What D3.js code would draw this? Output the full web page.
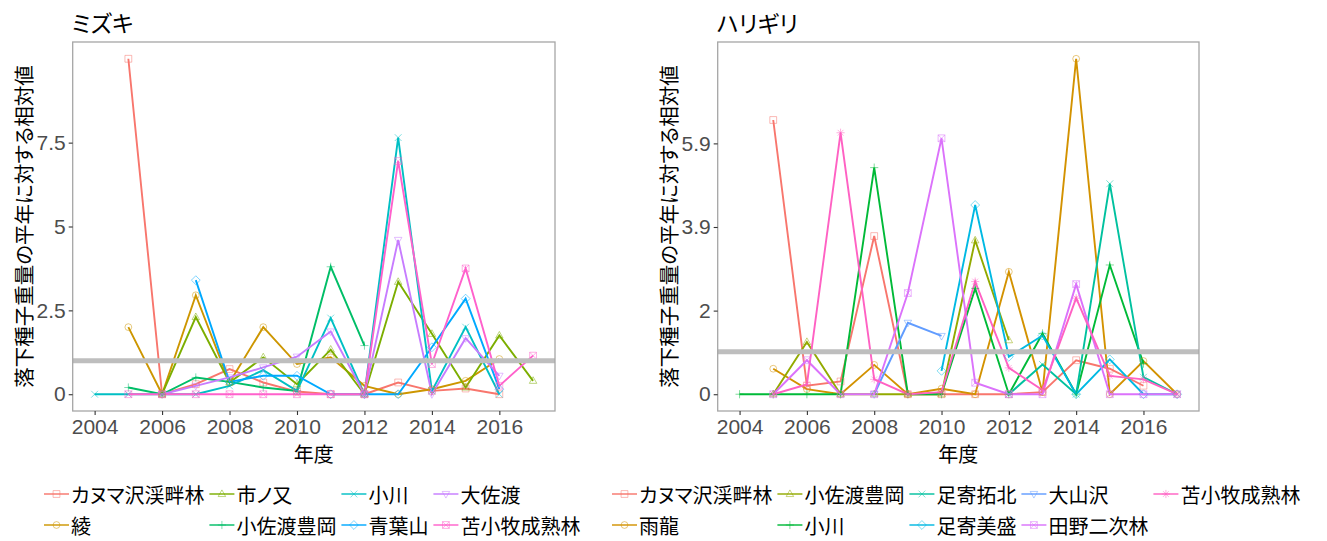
<!DOCTYPE html>
<html>
<head>
<meta charset="utf-8">
<script src="https://cdn.jsdelivr.net/npm/d3@7"></script>
<style>
body{margin:0;background:#fff;}
text{font-family:"Noto Sans CJK JP","Noto Sans",sans-serif;font-feature-settings:"palt";}
.tick text{font-family:"Liberation Sans",Arial,sans-serif;}
</style>
</head>
<body>
<div id="chart"></div>
<script>
// 年度
const years = [2004,2005,2006,2007,2008,2009,2010,2011,2012,2013,2014,2015,2016,2017];
const xTicks = [2004,2006,2008,2010,2012,2014,2016];

// ミズキ
const mizukiSites = ["カヌマ沢渓畔林","綾","市ノ又","小佐渡豊岡","小川","青葉山","大佐渡","苫小牧成熟林"];
const mzKanuma   = [null,10.0,0,0.3,0.75,0.35,0.08,0,0,0.35,0.1,0.17,0,null];
const mzAya      = [null,2.0,0,2.95,0.35,2.0,0.9,1.1,0.25,0,0.15,0.4,1.05,null];
const mzIchinomata = [null,null,0,2.3,0.35,1.1,0.3,1.33,0,3.35,1.8,0.2,1.75,0.4];
const mzKosadoToyooka = [null,0.2,0,0.5,0.37,0.2,0.1,3.8,1.45,null,null,null,null,null];
const mzOgawa    = [0,0,0,0,0.25,0.72,0.1,2.27,0,7.65,0.1,2.0,0,null];
const mzAobayama = [null,null,null,3.4,0.37,0.55,0.55,0,0,0,1.4,2.85,0.15,null];
const mzOsado    = [null,null,0,0.25,0.5,0.8,1.12,1.87,0,4.6,0,1.67,0.55,null];
const mzTomakomai = [null,0,0,0,0,0,0,0,0,6.95,0.9,3.75,0.25,1.15];
const mizukiValues = [mzKanuma,mzAya,mzIchinomata,mzKosadoToyooka,mzOgawa,mzAobayama,mzOsado,mzTomakomai];
const mizukiTicks = [0,2.5,5,7.5];
const mizukiTickLabels = ["0","2.5","5","7.5"];

// ハリギリ
const harigiriSites = ["カヌマ沢渓畔林","雨龍","小佐渡豊岡","小川","足寄拓北","足寄美盛","大山沢","田野二次林","苫小牧成熟林"];
const hgKanuma   = [null,6.45,0.2,0.3,3.72,0,0,0,0,0.05,0.8,0.6,0.2,null];
const hgUryu     = [null,0.6,0.12,0,0.69,0,0.13,0,2.88,0.05,7.89,0,0.78,0];
const hgKosadoToyooka = [null,0,1.23,0,0,0,0,3.62,1.27,null,null,null,null,null];
const hgOgawa    = [0,0,0,0,5.33,0,0,2.49,0,1.43,0,3.04,0.72,null];
const hgAshoroTakuhoku = [null,null,null,null,null,null,null,null,0,0.7,0,4.95,0.4,0];
const hgAshoroBisei = [null,null,null,null,null,null,0.55,4.45,0.88,1.38,0,0.82,0,0];
const hgOyamazawa = [null,null,null,null,0,1.68,1.37,null,null,null,null,null,null,null];
const hgTano     = [null,0,0.8,0,0,2.38,6.02,0.27,0,0,2.59,0,0,0];
const hgTomakomai = [null,0,0.23,6.15,0.35,0,0.05,2.65,0.62,0.1,2.26,0.43,0.35,0];
const harigiriValues = [hgKanuma,hgUryu,hgKosadoToyooka,hgOgawa,hgAshoroTakuhoku,hgAshoroBisei,hgOyamazawa,hgTano,hgTomakomai];
const harigiriTicks = [0,5.9/3,5.9*2/3,5.9];
const harigiriTickLabels = ["0","2","3.9","5.9"];

// ggplot2 hue palettes
const mizukiColors = ["#F8766D","#CD9600","#7CAE00","#00BE67","#00BFC4","#00A9FF","#C77CFF","#FF61CC"];
const harigiriColors = ["#F8766D","#D39200","#93AA00","#00BA38","#00C19F","#00B9E3","#619CFF","#DB72FB","#FF61C3"];

const W=1327, H=541;
const svg=d3.select('#chart').append('svg').attr('width',W).attr('height',H);

function shapePath(k,s){
  switch(k){
    case 0: return `M${-s},${-s}H${s}V${s}H${-s}Z`;
    case 1: return `M${s},0A${s},${s} 0 1,1 ${-s},0A${s},${s} 0 1,1 ${s},0Z`;
    case 2: return `M0,${-s*1.2}L${s*1.1},${s*0.75}L${-s*1.1},${s*0.75}Z`;
    case 3: return `M${-s*1.2},0H${s*1.2}M0,${-s*1.2}V${s*1.2}`;
    case 4: return `M${-s},${-s}L${s},${s}M${-s},${s}L${s},${-s}`;
    case 5: return `M0,${-s*1.3}L${s*1.3},0L0,${s*1.3}L${-s*1.3},0Z`;
    case 6: return `M0,${s*1.2}L${s*1.1},${-s*0.75}L${-s*1.1},${-s*0.75}Z`;
    case 7: return `M${-s},${-s}H${s}V${s}H${-s}ZM${-s},${-s}L${s},${s}M${-s},${s}L${s},${-s}`;
    default: return `M${-s*1.2},0H${s*1.2}M0,${-s*1.2}V${s*1.2}M${-s*0.85},${-s*0.85}L${s*0.85},${s*0.85}M${-s*0.85},${s*0.85}L${s*0.85},${-s*0.85}`;
  }
}

function panel(cfg){
  let colors=cfg.colors;
  let all=cfg.values.flat().filter(v=>v!==null);
  let ymax=d3.max(all), ymin=0;
  let pad=(ymax-ymin)*0.05;
  let x=d3.scaleLinear().domain([2004-0.65,2017+0.65]).range([cfg.left,cfg.right]);
  let y=d3.scaleLinear().domain([ymin-pad,ymax+pad]).range([cfg.bottom,cfg.top]);
  let g=svg.append('g');

  g.append('text').text(cfg.title).attr('x',cfg.left-1).attr('y',32)
    .style('font-size','23px').attr('fill','#000');

  let line=d3.line().defined(d=>d.v!==null).x(d=>x(d.year)).y(d=>y(d.v));
  cfg.values.forEach((vals,i)=>{
    let pts=years.map((yr,j)=>({year:yr,v:vals[j]}));
    g.append('path').datum(pts).attr('d',line)
      .attr('fill','none').attr('stroke',colors[i]).attr('stroke-width',1.9);
  });
  cfg.values.forEach((vals,i)=>{
    let pts=years.map((yr,j)=>({year:yr,v:vals[j]})).filter(d=>d.v!==null);
    g.selectAll(null).data(pts).enter().append('path')
      .attr('transform',d=>`translate(${x(d.year)},${y(d.v)})`)
      .attr('d',shapePath(i,3.4))
      .attr('fill','none').attr('stroke',colors[i]).attr('stroke-width',1)
      .attr('opacity',0.5);
  });

  // 平年値 = 1
  g.append('line').attr('x1',cfg.left).attr('x2',cfg.right)
    .attr('y1',y(1)).attr('y2',y(1))
    .attr('stroke','#bebebe').attr('stroke-width',5);

  g.append('rect').attr('x',cfg.left).attr('y',cfg.top)
    .attr('width',cfg.right-cfg.left).attr('height',cfg.bottom-cfg.top)
    .attr('fill','none').attr('stroke','#a6a6a6').attr('stroke-width',1.3);

  let xAxis=d3.axisBottom(x).tickValues(xTicks).tickFormat(d3.format('d')).tickSize(4).tickSizeOuter(0).tickPadding(4);
  let gx=g.append('g').attr('transform',`translate(0,${cfg.bottom})`).call(xAxis);
  let yAxis=d3.axisLeft(y).tickValues(cfg.ticks).tickFormat((d,i)=>cfg.tickLabels[i]).tickSize(4).tickSizeOuter(0).tickPadding(3);
  let gy=g.append('g').attr('transform',`translate(${cfg.left},0)`).call(yAxis);
  [gx,gy].forEach(a=>{
    a.select('.domain').remove();
    a.selectAll('.tick line').attr('stroke','#333').attr('stroke-width',1.1);
    a.selectAll('.tick text').attr('fill','#4d4d4d').style('font-size','21px');
  });

  g.append('text').text('年度').attr('x',(cfg.left+cfg.right)/2).attr('y',462)
    .attr('text-anchor','middle').style('font-size','20px');
  g.append('text').text('落下種子重量の平年に対する相対値')
    .attr('transform',`translate(${cfg.left-50},${(cfg.top+cfg.bottom)/2}) rotate(-90)`)
    .attr('text-anchor','middle').attr('dominant-baseline','central').style('font-size','20.5px');

  // 凡例 (2 rows, filled by column)
  let lg=svg.append('g');
  let rowsY=[494,525];
  let items=cfg.sites.map((s,i)=>({s,i,col:Math.floor(i/2),row:i%2}));
  let ncol=Math.ceil(cfg.sites.length/2);
  let widths=[];
  let tmp=lg.append('text').style('font-size','20px');
  for(let c=0;c<ncol;c++){
    let w=0;
    items.filter(d=>d.col===c).forEach(d=>{tmp.text(d.s);w=Math.max(w,tmp.node().getComputedTextLength());});
    widths.push(w);
  }
  tmp.remove();
  let starts=[cfg.legendX];
  for(let c=1;c<ncol;c++) starts.push(starts[c-1]+25+2+widths[c-1]+5);
  items.forEach(d=>{
    let kx=starts[d.col], ky=rowsY[d.row];
    lg.append('line').attr('x1',kx).attr('x2',kx+25).attr('y1',ky).attr('y2',ky)
      .attr('stroke',colors[d.i]).attr('stroke-width',1.9).attr('opacity',0.75);
    lg.append('path').attr('transform',`translate(${kx+12.5},${ky})`).attr('d',shapePath(d.i,3.4))
      .attr('fill','none').attr('stroke',colors[d.i]).attr('stroke-width',1).attr('opacity',0.5);
    lg.append('text').text(d.s).attr('x',kx+27).attr('y',ky)
      .attr('dominant-baseline','central').style('font-size','20px');
  });
}

panel({title:'ミズキ',sites:mizukiSites,values:mizukiValues,colors:mizukiColors,ticks:mizukiTicks,tickLabels:mizukiTickLabels,
  left:72.7,right:555,top:42,bottom:411,legendX:44});
panel({title:'ハリギリ',sites:harigiriSites,values:harigiriValues,colors:harigiriColors,ticks:harigiriTicks,tickLabels:harigiriTickLabels,
  left:717.7,right:1199,top:42,bottom:411,legendX:612});
</script>
</body>
</html>
